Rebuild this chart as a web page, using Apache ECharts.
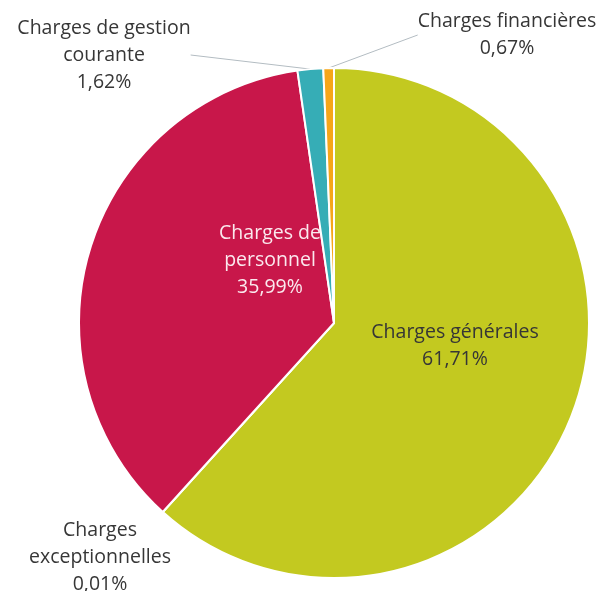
<!DOCTYPE html>
<html>
<head>
<meta charset="utf-8">
<script src="https://cdn.jsdelivr.net/npm/echarts@6/dist/echarts.min.js"></script>
<style>
  html, body { margin: 0; padding: 0; background: #fff; }
  #chart { width: 613px; height: 591px; }
</style>
</head>
<body>
<div id="chart"></div>
<script>
  // répartition des charges (%)
  var categories = ['Charges générales', 'Charges exceptionnelles', 'Charges de personnel', 'Charges de gestion courante', 'Charges financières'];
  var labelTexts = ['Charges générales', 'Charges\nexceptionnelles', 'Charges de\npersonnel', 'Charges de gestion\ncourante', 'Charges financières'];
  var values = [61.71, 0.01, 35.99, 1.62, 0.67];
  var valueLabels = ['61,71%', '0,01%', '35,99%', '1,62%', '0,67%'];
  var colors = ['#c3c920', '#c3c920', '#c8174a', '#36adb6', '#f6a619'];

  // position des étiquettes (px)
  var labelPos = [[455, 346], [100, 557], [270, 260], [104, 55], [507, 35]];

  var chart = echarts.init(document.getElementById('chart'));
  var data = values.map(function (v, i) {
    var inside = (i === 0 || i === 2);
    return {
      name: categories[i],
      value: v,
      itemStyle: { color: colors[i] },
      label: {
        show: true,
        position: inside ? 'inside' : 'outside',
        color: i === 2 ? '#fbe9ee' : '#363636',
        formatter: labelTexts[i] + '\n' + valueLabels[i]
      },
      labelLine: { show: (i === 3 || i === 4) }
    };
  });

  chart.setOption({
    animation: false,
    series: [{
      type: 'pie',
      center: [334, 323],
      radius: 255,
      startAngle: 90,
      clockwise: true,
      avoidLabelOverlap: false,
      itemStyle: { borderColor: '#ffffff', borderWidth: 2 },
      label: {
        fontFamily: 'Open Sans',
        fontSize: 19.5,
        lineHeight: 27,
        align: 'center'
      },
      labelLine: {
        length: 20,
        length2: 0,
        lineStyle: { color: '#b3bcc2', width: 1 }
      },
      labelLayout: function (p) {
        var pos = labelPos[p.dataIndex];
        return { x: pos[0], y: pos[1], align: 'center', verticalAlign: 'middle' };
      },
      data: data
    }]
  });
</script>
</body>
</html>
